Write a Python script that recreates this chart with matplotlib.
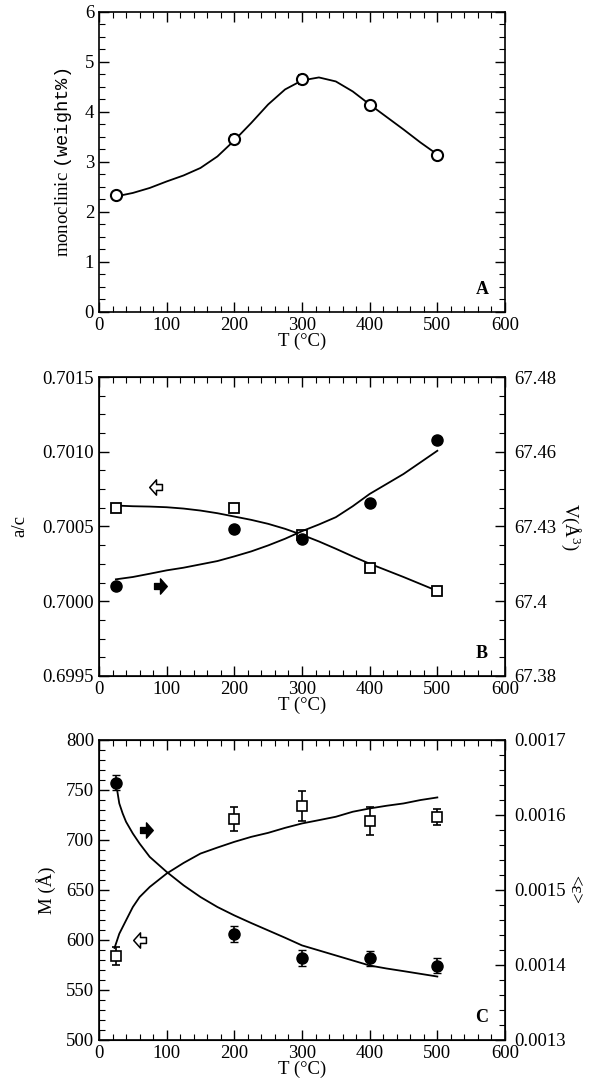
import matplotlib
matplotlib.use("Agg")
import matplotlib.pyplot as plt
from matplotlib.ticker import AutoMinorLocator, MultipleLocator, FormatStrFormatter
from matplotlib.path import Path

plt.rcParams['font.family'] = ['Liberation Serif', 'DejaVu Serif']
plt.rcParams['mathtext.fontset'] = 'custom'
plt.rcParams['mathtext.rm'] = 'Liberation Serif'
plt.rcParams['mathtext.tt'] = 'Liberation Mono'
plt.rcParams['mathtext.it'] = 'Liberation Serif:italic'
plt.rcParams['font.size'] = 13.5

# --- panel A: monoclinic fraction
temp = [25, 200, 300, 400, 500]
mono = [2.33, 3.45, 4.65, 4.13, 3.13]
mono_err = [0.07, 0.08, 0.09, 0.07, 0.07]
fitA_t = [25, 50, 75, 100, 125, 150, 175, 200, 225, 250, 275, 300, 325,
          350, 375, 400, 425, 450, 475, 500]
fitA_y = [2.31, 2.38, 2.48, 2.61, 2.73, 2.88, 3.11, 3.43, 3.78, 4.15, 4.45,
          4.63, 4.69, 4.61, 4.41, 4.15, 3.90, 3.65, 3.39, 3.15]

# --- panel B: a/c (left, squares) and V (right, circles)
ac = [0.700622, 0.700622, 0.700440, 0.700224, 0.700069]
ac_err = [0.000012, 0.000012, 0.000012, 0.000010, 0.000010]
vol = [67.4102, 67.4290, 67.4259, 67.4378, 67.4589]
fitB_t = [25, 50, 75, 100, 125, 150, 175, 200, 225, 250, 275, 300, 325,
          350, 375, 400, 425, 450, 475, 500]
fitB_ac = [0.7006400, 0.7006356, 0.7006333, 0.7006289, 0.7006200, 0.7006067,
           0.7005889, 0.7005667, 0.7005444, 0.7005178, 0.7004844, 0.7004444,
           0.7004000, 0.7003511, 0.7003000, 0.7002511, 0.7002067, 0.7001622,
           0.7001156, 0.7000689]
fitB_v = [67.41233, 67.41311, 67.41420, 67.41533, 67.41622, 67.41733,
          67.41844, 67.42000, 67.42167, 67.42367, 67.42590, 67.42844,
          67.43067, 67.43311, 67.43678, 67.44089, 67.44422, 67.44756,
          67.45144, 67.45533]
arrowB_t = [85, 90]
arrowB_ac = 0.700762
arrowB_v = 67.4102

# --- panel C: M (left, squares) and strain (right, circles)
size_m = [583.5, 720.8, 733.8, 719.1, 723.2]
size_err = [9, 12, 15, 14, 8]
strain = [0.001643, 0.0014412, 0.0014091, 0.001409, 0.0013993]
strain_err = [0.00001, 0.000011, 0.000011, 0.00001, 0.00001]
fitC_t = [23, 30, 40, 50, 60, 75, 100, 125, 150, 175, 200, 225, 250, 275,
          300, 325, 350, 375, 400, 425, 450, 475, 500]
fitC_m = [592, 606.2, 619.6, 632.9, 642.9, 653.0, 666.4, 677.0, 686.4,
          692.4, 698.1, 703.1, 707.1, 712.1, 716.5, 719.8, 723.2, 728.2,
          731.5, 734.2, 736.5, 739.9, 742.5]
fitC_t2 = [27, 30, 35, 40, 50, 60, 75, 100, 125, 150, 175, 200, 225, 250,
           275, 300, 325, 350, 375, 400, 425, 450, 475, 500]
fitC_s = [0.0016323, 0.0016154, 0.0016020, 0.0015909, 0.0015753, 0.0015619,
          0.0015441, 0.0015241, 0.0015062, 0.0014906, 0.0014773, 0.0014661,
          0.0014559, 0.0014461, 0.0014363, 0.0014261, 0.0014194, 0.0014127,
          0.0014060, 0.0013993, 0.0013953, 0.0013918, 0.0013882, 0.0013846]
arrowC_t = [60, 70]
arrowC_m = 599.5
arrowC_s = 0.0015806

# block-arrow marker pointing right
_arr = [(-0.7, -0.35), (0.0, -0.35), (0.0, -0.9), (0.8, 0.0), (0.0, 0.9),
        (0.0, 0.35), (-0.7, 0.35), (-0.7, -0.35)]
_codes = [Path.MOVETO] + [Path.LINETO] * 6 + [Path.CLOSEPOLY]
ARROW_R = Path(_arr, _codes)
ARROW_L = Path([(-x, y) for x, y in _arr], _codes)

fig = plt.figure(figsize=(5.93, 10.84), dpi=100)
LEFT, WIDTH = 0.1669, 0.6847


def ticks(ax):
    ax.tick_params(which='both', direction='in')
    ax.tick_params(which='major', length=7, width=1.0)
    ax.tick_params(which='minor', length=4, width=0.8)


def style(ax, right=True):
    ax.tick_params(which='both', top=True, right=right)
    ticks(ax)
    ax.xaxis.set_minor_locator(AutoMinorLocator(5))
    ax.set_xlim(0, 600)
    for s in ax.spines.values():
        s.set_linewidth(1.2)


def letter(ax, s):
    ax.text(0.943, 0.075, s, transform=ax.transAxes, ha='center', va='center',
            fontweight='bold', fontsize=13)


# Panel A
axA = fig.add_axes([LEFT, 0.7122, WIDTH, 0.2768])
axA.plot(fitA_t, fitA_y, color='black', lw=1.3)
axA.errorbar(temp, mono, yerr=mono_err, fmt='o', ms=8, mfc='white', mec='black',
             mew=1.5, ecolor='black', elinewidth=1.5, capsize=3)
axA.set_ylim(0, 6)
axA.yaxis.set_minor_locator(AutoMinorLocator(4))
style(axA)
axA.set_xlabel('T (°C)', labelpad=-1)
axA.set_ylabel(r'monoclinic $\mathtt{(weight\%)}$', labelpad=8)
letter(axA, 'A')

# Panel B
axB = fig.add_axes([LEFT, 0.3764, WIDTH, 0.2758])
axB2 = axB.twinx()
axB.plot(fitB_t, fitB_ac, color='black', lw=1.3)
axB2.plot(fitB_t, fitB_v, color='black', lw=1.3)
axB.errorbar(temp, ac, yerr=ac_err, fmt='s', ms=7, mfc='white', mec='black',
             mew=1.3, ecolor='black', elinewidth=1.2, capsize=2)
axB2.plot(temp, vol, 'o', ms=8, color='black')
axB.plot(arrowB_t[0], arrowB_ac, marker=ARROW_L, ms=11, mfc='white', mec='black',
         mew=1.1, ls='none')
axB2.plot(arrowB_t[1], arrowB_v, marker=ARROW_R, ms=11, color='black', ls='none')
axB.set_ylim(0.6995, 0.7015)
axB.yaxis.set_major_locator(MultipleLocator(0.0005))
axB.yaxis.set_minor_locator(AutoMinorLocator(4))
axB.yaxis.set_major_formatter(FormatStrFormatter('%.4f'))
axB2.set_ylim(67.38, 67.48)
axB2.set_yticks([67.38, 67.405, 67.43, 67.455, 67.48])
axB2.set_yticklabels(['67.38', '67.4', '67.43', '67.46', '67.48'])
axB2.yaxis.set_minor_locator(AutoMinorLocator(4))
style(axB, right=False)
ticks(axB2)
axB2.tick_params(axis='y', which='major', pad=7)
axB.set_xlabel('T (°C)', labelpad=-1)
axB.set_ylabel('a/c', labelpad=10)
axB2.set_ylabel('V(Å$^3$)', rotation=270, labelpad=18)
letter(axB, 'B')

# Panel C
axC = fig.add_axes([LEFT, 0.0406, WIDTH, 0.2768])
axC2 = axC.twinx()
axC.plot(fitC_t, fitC_m, color='black', lw=1.3)
axC2.plot(fitC_t2, fitC_s, color='black', lw=1.3)
axC.errorbar(temp, size_m, yerr=size_err, fmt='s', ms=7, mfc='white', mec='black',
             mew=1.2, ecolor='black', elinewidth=1.2, capsize=3)
axC2.errorbar(temp, strain, yerr=strain_err, fmt='o', ms=8, color='black',
              elinewidth=1.2, capsize=3)
axC.plot(arrowC_t[0], arrowC_m, marker=ARROW_L, ms=11, mfc='white', mec='black',
         mew=1.1, ls='none')
axC2.plot(arrowC_t[1], arrowC_s, marker=ARROW_R, ms=11, color='black', ls='none')
axC.set_ylim(500, 800)
axC.yaxis.set_major_locator(MultipleLocator(50))
axC.yaxis.set_minor_locator(AutoMinorLocator(5))
axC2.set_ylim(0.0013, 0.0017)
axC2.set_yticks([0.0013, 0.0014, 0.0015, 0.0016, 0.0017])
axC2.set_yticklabels(['0.0013', '0.0014', '0.0015', '0.0016', '0.0017'])
axC2.yaxis.set_minor_locator(AutoMinorLocator(5))
style(axC, right=False)
ticks(axC2)
axC2.tick_params(axis='y', which='major', pad=7)
axC.set_xlabel('T (°C)', labelpad=-1)
axC.set_ylabel('M (Å)', labelpad=7)
axC2.set_ylabel('<ε>', rotation=270, labelpad=12)
letter(axC, 'C')

fig.savefig('out.png', dpi=100)
